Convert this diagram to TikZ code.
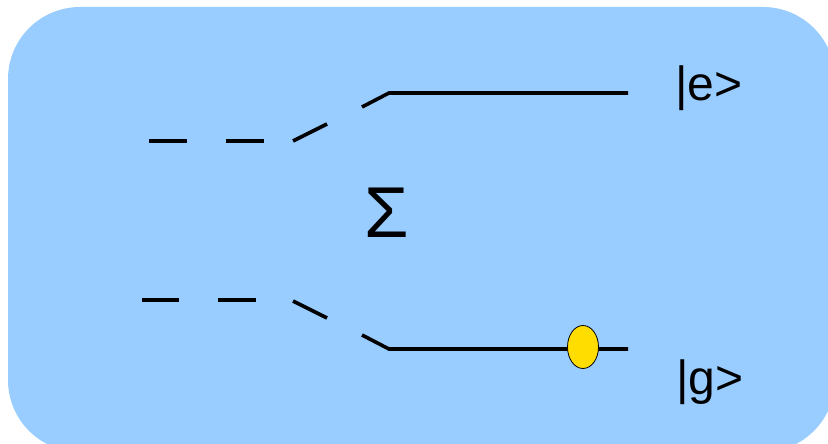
\documentclass[tikz,border=0pt]{standalone}
\usepackage{fontspec}
\setmainfont{Liberation Sans}
\usetikzlibrary{shapes.geometric}
\definecolor{bgblue}{HTML}{99CCFF}
\definecolor{dotgold}{HTML}{FFDD00}
\begin{document}
\begin{tikzpicture}[x=1pt,y=-1pt,
  level/.style={line width=3.6pt,black},
  ket/.style={inner sep=0pt,font=\fontsize{48}{56}\selectfont},
  sumsign/.style={inner sep=0pt,font=\fontsize{72}{80}\selectfont}]
\useasboundingbox (0,0) rectangle (828,444);
\begin{scope}
\clip (0,0) rectangle (828,444);
\fill[bgblue,rounded corners=72pt] (8,7) rectangle (835,452);
\end{scope}
% upper level
\coordinate (u1a) at (149,141); \coordinate (u1b) at (187,141);
\coordinate (u2a) at (226,141); \coordinate (u2b) at (264,141);
\coordinate (u3a) at (293,141); \coordinate (u3b) at (327,124);
\coordinate (u4a) at (362,107); \coordinate (u4b) at (389,93);
\coordinate (u5) at (628,93);
\draw[level] (u1a) -- (u1b);
\draw[level] (u2a) -- (u2b);
\draw[level] (u3a) -- (u3b);
\draw[level] (u4a) -- (u4b) -- (u5);
% lower level
\coordinate (l1a) at (142,300); \coordinate (l1b) at (179,300);
\coordinate (l2a) at (218,300); \coordinate (l2b) at (256,300);
\coordinate (l3a) at (293,301); \coordinate (l3b) at (327,318);
\coordinate (l4a) at (362,335); \coordinate (l4b) at (389,349);
\coordinate (l5) at (628,349);
\draw[level] (l1a) -- (l1b);
\draw[level] (l2a) -- (l2b);
\draw[level] (l3a) -- (l3b);
\draw[level] (l4a) -- (l4b) -- (l5);
% atom
\node[ellipse,draw=black,line width=0.8pt,fill=dotgold,minimum width=31pt,minimum height=43pt,inner sep=0pt] (atom) at (583,347) {};
% labels
\node[ket] (e) at (709,88) {|e>};
\node[ket] (g) at (710,382) {|g>};
\node[sumsign] (sig) at (387,213) {Σ};
\end{tikzpicture}
\end{document}
